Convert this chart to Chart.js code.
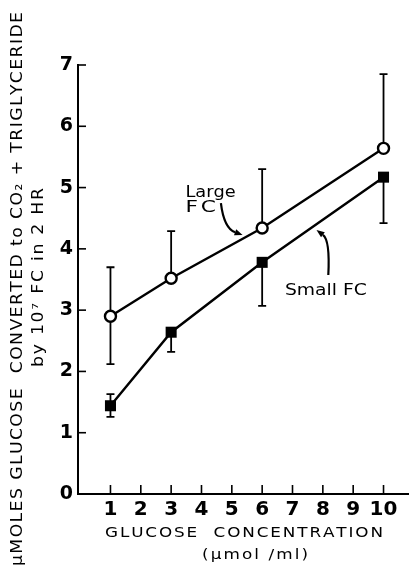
<!DOCTYPE html>
<html><head><meta charset="utf-8">
<script src="https://cdn.jsdelivr.net/npm/chart.js@4/dist/chart.umd.min.js"></script>
<style>html,body{margin:0;padding:0;background:#fff}</style>
</head><body>
<canvas id="c" width="416" height="568"></canvas>
<script>
// ---- data ----
const glucose       = [1, 3, 6, 10];
const largeFC       = [2.90, 3.52, 4.34, 5.64];
const largeFCUpper  = [3.70, 4.29, 5.30, 6.85];
const largeFCLower  = [2.12, null, null, null];
const smallFC       = [1.44, 2.64, 3.78, 5.17];
const smallFCUpper  = [1.63, null, null, null];
const smallFCLower  = [1.26, 2.32, 3.07, 4.42];
const xTickValues   = [1, 2, 3, 4, 5, 6, 7, 8, 9, 10];
const yTickValues   = [0, 1, 2, 3, 4, 5, 6, 7];
const seriesNames   = ['Large FC', 'Small FC'];
const yTitleLine1   = 'μMOLES GLUCOSE  CONVERTED to CO₂ + TRIGLYCERIDE';
const yTitleLine2   = 'by 10⁷ FC in 2 HR';
const xTitleLine1   = 'GLUCOSE  CONCENTRATION';
const xTitleLine2   = '(μmol /ml)';

// annotation placement (data coordinates)
const labelSpecs = [
  {text: 'Large', x: 3.47, y: 4.846, x2: 5.13},
  {text: 'FC',    x: 3.47, y: 4.60,  x2: 4.48},
  {text: 'Small FC', x: 6.75, y: 3.247, x2: 9.45}
];
const arrowSpecs = [
  {from: [4.64, 4.748], ctrl: [4.74, 4.34], to: [5.354, 4.226]},
  {from: [8.18, 3.573], ctrl: [8.24, 4.144], to: [7.79, 4.307]}
];

const FONT = "'DejaVu Sans', sans-serif";

// draws text with wide lettering: glyphs stretched by up to `stretch`,
// remaining space spread between characters so the text spans `width`
function fitText(ctx, text, x, y, width, stretch) {
  stretch = stretch || 1.2;
  const chars = Array.from(text);
  const widths = chars.map(c => ctx.measureText(c).width);
  const natural = widths.reduce((a, b) => a + b, 0);
  const s = Math.min(stretch, width / natural);
  const extra = chars.length > 1 ? (width - natural * s) / (chars.length - 1) : 0;
  let cx = 0;
  ctx.save();
  ctx.translate(x, y);
  chars.forEach((c, i) => {
    ctx.save();
    ctx.translate(cx, 0);
    ctx.scale(s, 1);
    ctx.fillText(c, 0, 0);
    ctx.restore();
    cx += widths[i] * s + extra;
  });
  ctx.restore();
}

const refPlugin = {
  id: 'refPlugin',
  beforeDatasetsDraw(chart) {
    const {ctx, scales: {x, y}} = chart;
    ctx.save();
    ctx.strokeStyle = '#000';
    ctx.lineWidth = 1.8;
    const cap = 4;
    const bars = [[largeFCUpper, largeFCLower, largeFC], [smallFCUpper, smallFCLower, smallFC]];
    bars.forEach(([up, lo, mid]) => {
      glucose.forEach((g, i) => {
        const px = x.getPixelForValue(g);
        const pm = y.getPixelForValue(mid[i]);
        [up[i], lo[i]].forEach(v => {
          if (v === null) return;
          const pv = y.getPixelForValue(v);
          ctx.beginPath();
          ctx.moveTo(px, pm); ctx.lineTo(px, pv);
          ctx.moveTo(px - cap, pv); ctx.lineTo(px + cap, pv);
          ctx.stroke();
        });
      });
    });
    ctx.restore();
  },
  afterDraw(chart) {
    const {ctx, chartArea: a, scales: {x, y}} = chart;
    ctx.save();
    // inward tick marks
    ctx.strokeStyle = '#000';
    ctx.lineWidth = 1.6;
    xTickValues.forEach(v => {
      const px = x.getPixelForValue(v);
      ctx.beginPath(); ctx.moveTo(px, a.bottom); ctx.lineTo(px, a.bottom - 9); ctx.stroke();
    });
    yTickValues.forEach(v => {
      if (v === 0) return;
      const py = y.getPixelForValue(v);
      ctx.beginPath(); ctx.moveTo(a.left, py); ctx.lineTo(a.left + 8, py); ctx.stroke();
    });

    // in-plot labels
    ctx.fillStyle = '#000';
    ctx.font = '15px ' + FONT;
    ctx.textBaseline = 'alphabetic';
    ctx.textAlign = 'left';
    labelSpecs.forEach(s => {
      const px = x.getPixelForValue(s.x), px2 = x.getPixelForValue(s.x2);
      fitText(ctx, s.text, px, y.getPixelForValue(s.y), px2 - px, 1.45);
    });

    // curved arrows
    ctx.lineWidth = 2.2;
    arrowSpecs.forEach(s => {
      const p0 = [x.getPixelForValue(s.from[0]), y.getPixelForValue(s.from[1])];
      const pc = [x.getPixelForValue(s.ctrl[0]), y.getPixelForValue(s.ctrl[1])];
      const p1 = [x.getPixelForValue(s.to[0]), y.getPixelForValue(s.to[1])];
      const ang = Math.atan2(p1[1] - pc[1], p1[0] - pc[0]);
      const hl = 8, hw = 3.2;
      const bx = p1[0] - hl * Math.cos(ang), by = p1[1] - hl * Math.sin(ang);
      ctx.beginPath();
      ctx.moveTo(p0[0], p0[1]);
      ctx.quadraticCurveTo(pc[0], pc[1], bx, by);
      ctx.stroke();
      ctx.beginPath();
      ctx.moveTo(p1[0], p1[1]);
      ctx.lineTo(bx - hw * Math.sin(ang), by + hw * Math.cos(ang));
      ctx.lineTo(bx + hw * Math.sin(ang), by - hw * Math.cos(ang));
      ctx.closePath();
      ctx.fill();
    });

    // axis titles
    ctx.font = '14px ' + FONT;
    ctx.textBaseline = 'middle';
    fitText(ctx, xTitleLine1, 105, 533, 278, 1.2);
    fitText(ctx, xTitleLine2, 202, 555, 106, 1.2);

    ctx.font = '15px ' + FONT;
    ctx.save();
    ctx.translate(18, 566);
    ctx.rotate(-Math.PI / 2);
    fitText(ctx, yTitleLine1, 0, 0, 554, 1.15);
    ctx.restore();
    ctx.save();
    ctx.translate(39, 367);
    ctx.rotate(-Math.PI / 2);
    fitText(ctx, yTitleLine2, 0, 0, 179, 1.15);
    ctx.restore();

    ctx.restore();
  }
};

new Chart(document.getElementById('c'), {
  type: 'line',
  data: {
    datasets: [
      {
        label: seriesNames[0],
        data: glucose.map((g, i) => ({x: g, y: largeFC[i]})),
        borderColor: '#000', borderWidth: 2.4,
        pointStyle: 'circle', pointRadius: 5.5,
        pointBackgroundColor: '#fff', pointBorderColor: '#000', pointBorderWidth: 2.4,
        tension: 0
      },
      {
        label: seriesNames[1],
        data: glucose.map((g, i) => ({x: g, y: smallFC[i]})),
        borderColor: '#000', borderWidth: 2.4,
        pointStyle: 'rect', pointRadius: 7.8,
        pointBackgroundColor: '#000', pointBorderColor: '#000', pointBorderWidth: 0,
        tension: 0
      }
    ]
  },
  options: {
    responsive: false,
    devicePixelRatio: 1,
    animation: false,
    layout: {padding: {top: 65, right: 3, left: 0, bottom: 0}},
    plugins: {legend: {display: false}, tooltip: {enabled: false}},
    scales: {
      x: {
        type: 'linear', min: -0.07, max: 10.81,
        afterBuildTicks: s => { s.ticks = xTickValues.map(v => ({value: v})); },
        afterFit: s => { s.height = 74; },
        grid: {display: false, drawTicks: false},
        border: {display: true, color: '#000', width: 2},
        ticks: {padding: 4, color: '#000', font: {family: FONT, size: 20, weight: 'bold'}, maxRotation: 0, autoSkip: false}
      },
      y: {
        type: 'linear', min: 0, max: 7,
        afterBuildTicks: s => { s.ticks = yTickValues.map(v => ({value: v})); },
        afterFit: s => { s.width = 78; },
        grid: {display: false, drawTicks: false},
        border: {display: true, color: '#000', width: 2},
        ticks: {padding: 5, color: '#000', font: {family: FONT, size: 19, weight: 'bold'}, autoSkip: false}
      }
    }
  },
  plugins: [refPlugin]
});
</script>
</body></html>
